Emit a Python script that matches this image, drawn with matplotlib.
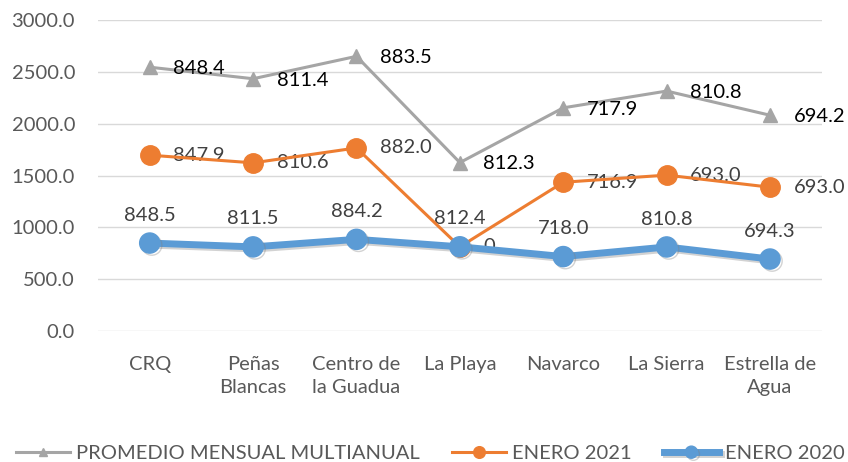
import numpy as np
import matplotlib.pyplot as plt
import matplotlib.patheffects as pe

plt.rcParams['font.family'] = ['Lato', 'DejaVu Sans']

# data
categories = ['CRQ', 'Peñas\nBlancas', 'Centro de\nla Guadua', 'La Playa',
              'Navarco', 'La Sierra', 'Estrella de\nAgua']
enero_2020 = [848.5, 811.5, 884.2, 812.4, 718.0, 810.8, 694.3]
enero_2021 = [847.9, 810.6, 882.0, 0, 716.9, 693.0, 693.0]
promedio = [848.4, 811.4, 883.5, 812.3, 717.9, 810.8, 694.2]
labels_2021 = ['847.9', '810.6', '882.0', '0', '716.9', '693.0', '693.0']

# stacked line (como en Excel)
s2020 = np.array(enero_2020)
s2021 = s2020 + np.array(enero_2021)
sprom = s2021 + np.array(promedio)

x = np.arange(len(categories))

fig = plt.figure(figsize=(8.48, 4.62), dpi=100)
ax = fig.add_axes([0.1156, 0.2835, 0.8534, 0.6732])

shadow = [pe.SimpleLineShadow(offset=(1.5, -1.5), alpha=0.35, shadow_color='gray'), pe.Normal()]

ax.plot(x, sprom, color='#A5A5A5', lw=2.2, marker='^', ms=10,
        label='PROMEDIO MENSUAL MULTIANUAL', zorder=3)
ax.plot(x, s2021, color='#ED7D31', lw=2.2, marker='o', ms=14,
        label='ENERO 2021', zorder=4)
ax.plot(x, s2020, color='#5B9BD5', lw=5, marker='o', ms=14.5,
        label='ENERO 2020', zorder=5, path_effects=shadow)

fs = 14.5
for i in range(len(x)):
    ax.annotate(f'{enero_2020[i]:.1f}', (x[i], s2020[i]), xytext=(0, 14),
                textcoords='offset points', ha='center', va='bottom',
                fontsize=fs, color='#404040')
    ax.annotate(labels_2021[i], (x[i], s2021[i]), xytext=(17, 0),
                textcoords='offset points', ha='left', va='center',
                fontsize=fs, color='#404040')
    ax.annotate(f'{promedio[i]:.1f}', (x[i], sprom[i]), xytext=(17, -1),
                textcoords='offset points', ha='left', va='center',
                fontsize=fs, color='black')

ax.set_ylim(0, 3000)
ax.set_xlim(-0.5, len(x) - 0.5)
ax.set_yticks(np.arange(0, 3001, 500))
ax.set_yticklabels([f'{v:.1f}' for v in np.arange(0, 3001, 500)])
ax.set_xticks(x)
ax.set_xticklabels(categories, linespacing=1.45)
ax.tick_params(axis='both', length=0, labelsize=fs, colors='#595959')
ax.tick_params(axis='y', pad=16.5)
ax.tick_params(axis='x', pad=18)
ax.grid(axis='y', color='#D9D9D9', lw=1)
ax.set_axisbelow(True)
for s in ax.spines.values():
    s.set_visible(False)

fig.legend(loc='center', bbox_to_anchor=(0.507, 0.018), ncol=3, frameon=False,
           fontsize=fs, handlelength=2.7, columnspacing=1.6, handletextpad=0.3,
           markerscale=0.6, labelcolor='#595959', borderpad=0)

fig.savefig('out.png', dpi=100)
